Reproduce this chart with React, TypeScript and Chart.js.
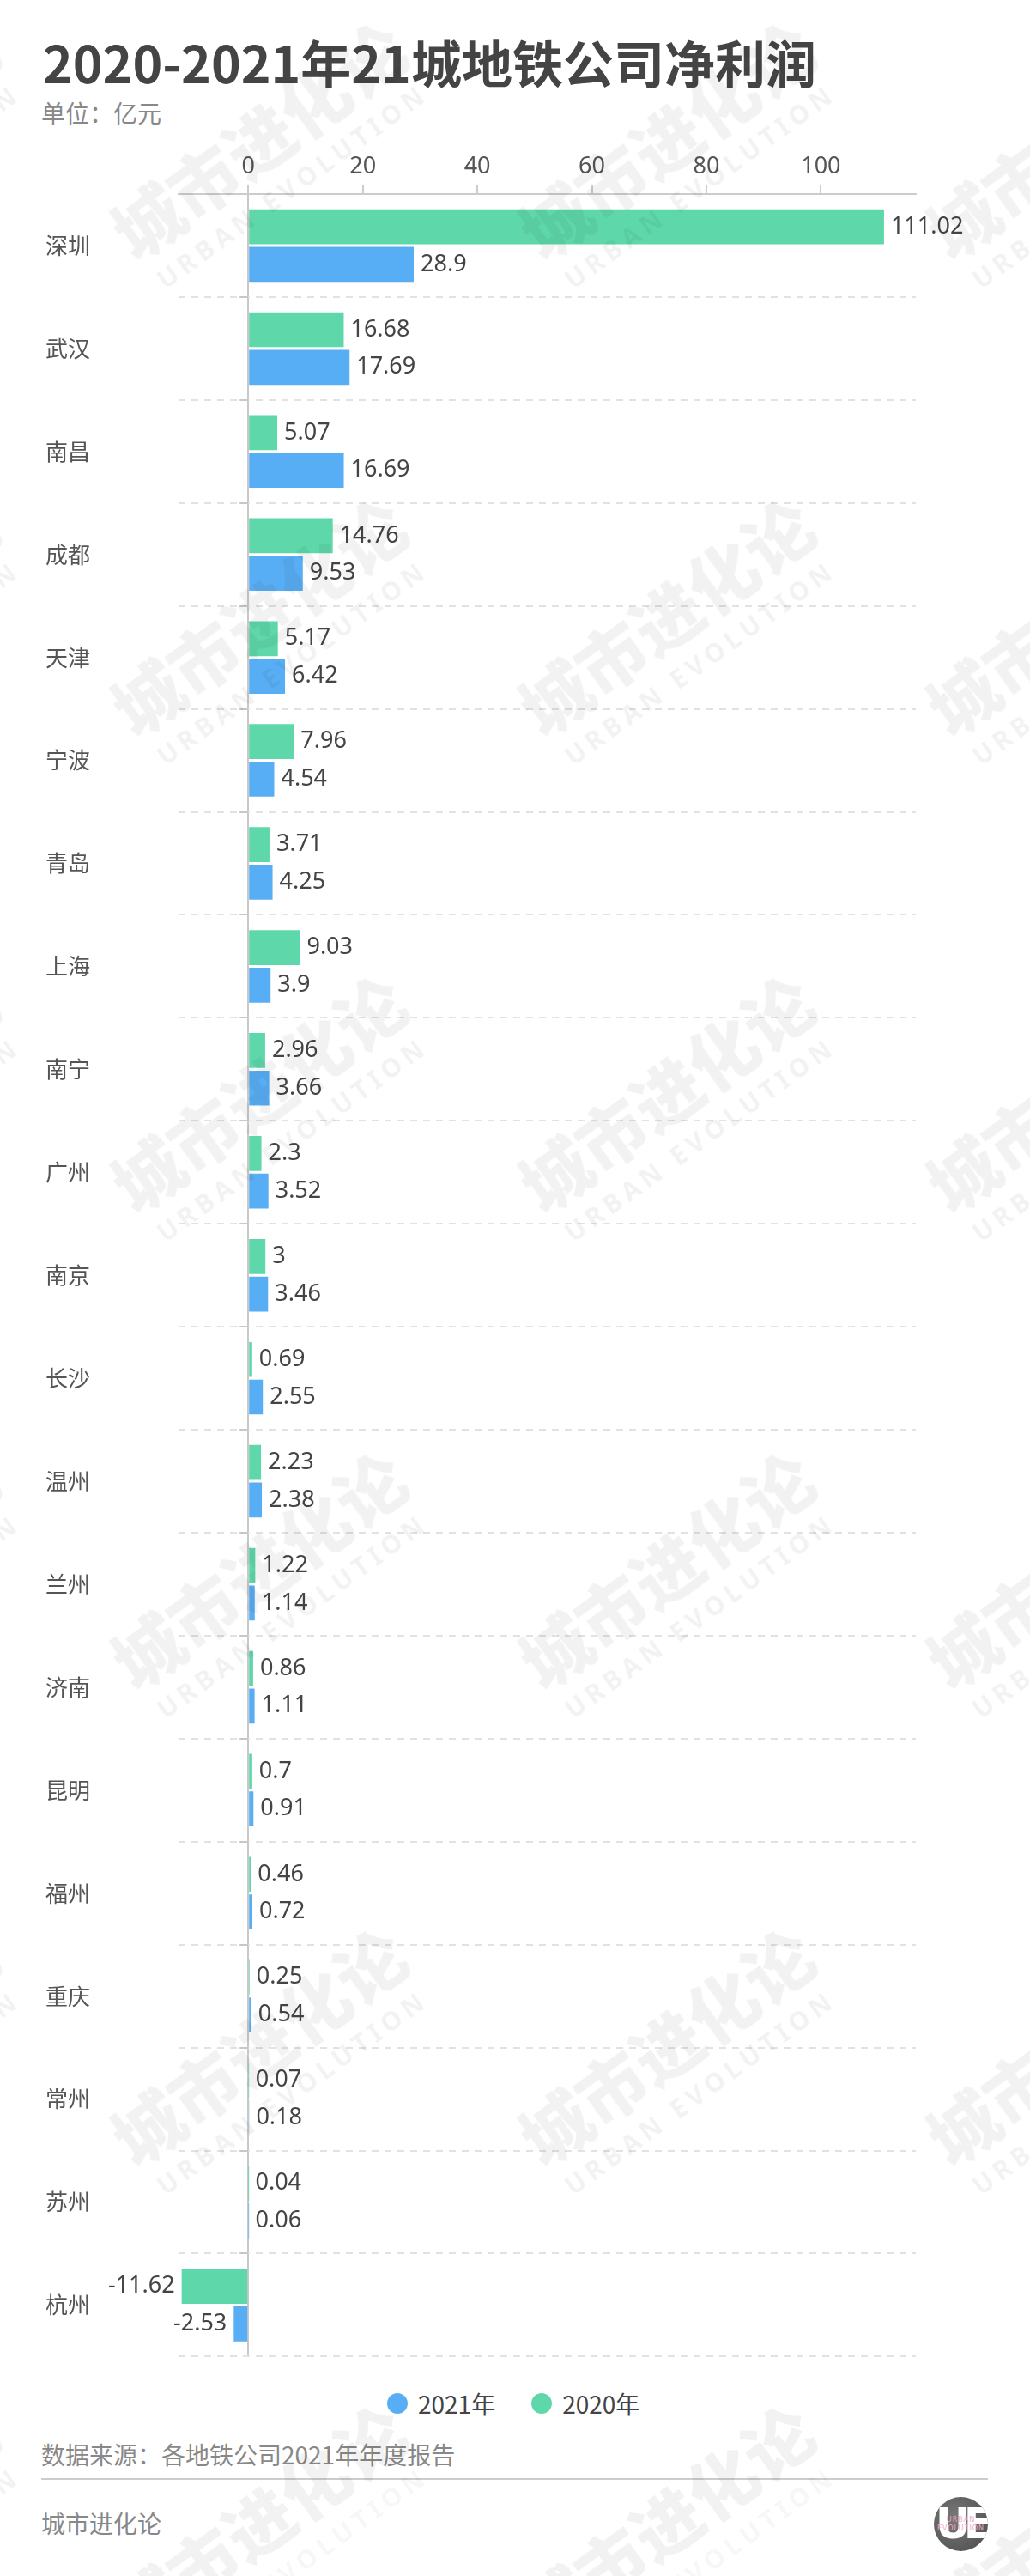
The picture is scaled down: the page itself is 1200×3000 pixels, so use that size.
import React, { useEffect, useRef } from "react";
import { Chart, registerables } from "chart.js";

Chart.register(...registerables);

const cities = ["深圳", "武汉", "南昌", "成都", "天津", "宁波", "青岛", "上海", "南宁", "广州", "南京", "长沙", "温州", "兰州", "济南", "昆明", "福州", "重庆", "常州", "苏州", "杭州"];
const profit2020 = [111.02, 16.68, 5.07, 14.76, 5.17, 7.96, 3.71, 9.03, 2.96, 2.3, 3, 0.69, 2.23, 1.22, 0.86, 0.7, 0.46, 0.25, 0.07, 0.04, -11.62];
const profit2021 = [28.9, 17.69, 16.69, 9.53, 6.42, 4.54, 4.25, 3.9, 3.66, 3.52, 3.46, 2.55, 2.38, 1.14, 1.11, 0.91, 0.72, 0.54, 0.18, 0.06, -2.53];
const xTickValues = [0, 20, 40, 60, 80, 100];
const legendNames = ["2021年", "2020年"];

const GREEN = "#5ED8AA";
const BLUE = "#58AEF4";
const FONT = '"Noto Sans CJK SC", "Noto Sans", sans-serif';
const NUM_FONT = '"Noto Sans", "Noto Sans CJK SC", sans-serif';

const wmCols = [-162, 313, 788, 1263];
const wmRows = [143, 698, 1253, 1808, 2363, 2918];

const valueLabelPlugin = {
  id: "valueLabels",
  afterDatasetsDraw(chart: any) {
    const { ctx } = chart;
    ctx.save();
    ctx.font = `27px ${NUM_FONT}`;
    ctx.fillStyle = "#444";
    ctx.textBaseline = "middle";
    chart.data.datasets.forEach((ds: any, i: number) => {
      const meta = chart.getDatasetMeta(i);
      meta.data.forEach((bar: any, j: number) => {
        const v = ds.data[j] as number;
        const txt = String(v);
        if (v >= 0) {
          ctx.textAlign = "left";
          ctx.fillText(txt, bar.x + 8, bar.y);
        } else {
          ctx.textAlign = "right";
          ctx.fillText(txt, bar.x - 8, bar.y);
        }
      });
    });
    ctx.restore();
  },
};

const zeroTicksPlugin = {
  id: "zeroTicks",
  afterDraw(chart: any) {
    const { ctx } = chart;
    const xs = chart.scales.x;
    const ys = chart.scales.y;
    const x0 = xs.getPixelForValue(0);
    ctx.save();
    ctx.strokeStyle = "#c8c8c8";
    ctx.lineWidth = 2;
    for (let i = 1; i < cities.length; i++) {
      const y = Math.round((ys.getPixelForValue(i - 1) + ys.getPixelForValue(i)) / 2);
      ctx.beginPath();
      ctx.moveTo(x0 - 10, y);
      ctx.lineTo(x0, y);
      ctx.stroke();
    }
    ctx.restore();
  },
};

export default function App() {
  const ref = useRef<HTMLCanvasElement>(null);
  useEffect(() => {
    document.body.style.margin = "0";
    const chart = new Chart(ref.current as HTMLCanvasElement, {
      type: "bar",
      data: {
        labels: cities,
        datasets: [
          { label: "2020年", data: profit2020, backgroundColor: GREEN },
          { label: "2021年", data: profit2021, backgroundColor: BLUE },
        ],
      },
      options: {
        indexAxis: "y",
        animation: false,
        responsive: true,
        maintainAspectRatio: false,
        layout: { padding: { left: 53, right: 133, top: 0, bottom: 7 } },
        datasets: { bar: { categoryPercentage: 0.73, barPercentage: 0.93 } },
        plugins: { legend: { display: false }, tooltip: { enabled: false } },
        scales: {
          x: {
            type: "linear",
            position: "top",
            min: -12.17,
            max: 116.58,
            afterBuildTicks: (s: any) => {
              s.ticks = xTickValues.map((v) => ({ value: v }));
            },
            afterFit: (s: any) => {
              s.height = 76;
            },
            ticks: { font: { family: NUM_FONT, size: 27 }, color: "#555", padding: 4 },
            grid: {
              color: (c: any) => (c.tick && c.tick.value === 0 ? "#c8c8c8" : "rgba(0,0,0,0)"),
              lineWidth: 2,
              drawTicks: true,
              tickLength: 11,
              tickColor: "#cccccc",
              tickWidth: 2,
            },
            border: { display: true, color: "#cccccc", width: 2 },
          },
          y: {
            type: "category",
            afterFit: (s: any) => {
              s.width = 155;
            },
            ticks: { font: { family: FONT, size: 26 }, color: "#555", crossAlign: "far", padding: 0 },
            grid: {
              color: (c: any) => (c.index === 0 || c.index >= cities.length ? "rgba(0,0,0,0)" : "#e2e2e2"),
              lineWidth: 2,
              drawTicks: false,
              offset: true,
            },
            border: { display: false, dash: [8, 7] },
          },
        },
      } as any,
      plugins: [valueLabelPlugin, zeroTicksPlugin],
    });
    return () => chart.destroy();
  }, []);

  const textBase: React.CSSProperties = { position: "absolute", whiteSpace: "nowrap", fontFamily: FONT };

  return (
    <div style={{ position: "relative", width: 1200, height: 3000, background: "#fff", overflow: "hidden", fontFamily: FONT }}>
      <div style={{ ...textBase, left: 50, top: 42, fontSize: 59, lineHeight: "60px", fontWeight: 700, color: "#444" }}>
        2020-2021年21城地铁公司净利润
      </div>
      <div style={{ ...textBase, left: 48, top: 117, fontSize: 28, lineHeight: "28px", color: "#888" }}>单位：亿元</div>

      <div style={{ position: "absolute", left: 0, top: 150, width: 1200, height: 2610 }}>
        <canvas ref={ref} />
      </div>

      <div style={{ ...textBase, left: 451, top: 2785, height: 28, display: "flex", alignItems: "center", fontSize: 28, color: "#444" }}>
        <span style={{ width: 24, height: 24, borderRadius: "50%", background: BLUE, display: "inline-block" }} />
        <span style={{ marginLeft: 12, lineHeight: "28px" }}>{legendNames[0]}</span>
        <span style={{ width: 24, height: 24, borderRadius: "50%", background: GREEN, display: "inline-block", marginLeft: 42 }} />
        <span style={{ marginLeft: 12, lineHeight: "28px" }}>{legendNames[1]}</span>
      </div>

      <div style={{ ...textBase, left: 48, top: 2844, fontSize: 28, lineHeight: "28px", color: "#888" }}>数据来源：各地铁公司2021年年度报告</div>
      <div style={{ position: "absolute", left: 48, top: 2886, width: 1103, height: 2, background: "#cccccc" }} />
      <div style={{ ...textBase, left: 48, top: 2924, fontSize: 28, lineHeight: "28px", color: "#888" }}>城市进化论</div>

      <div style={{ position: "absolute", left: 1088, top: 2908, width: 63, height: 63, borderRadius: "50%", overflow: "hidden", background: "radial-gradient(circle at 40% 40%, #7a7a7a, #4a4a4a)" }}>
        <div style={{ position: "absolute", left: 0, right: 0, top: 4, textAlign: "center", color: "#fff", fontWeight: 700, fontSize: 50, lineHeight: "54px", letterSpacing: -8, fontFamily: '"DejaVu Sans"' }}>UE</div>
        <div style={{ position: "absolute", left: 0, right: 0, top: 22, textAlign: "center", color: "#f2a7c9", fontSize: 8, lineHeight: "10px", letterSpacing: 1, fontFamily: '"DejaVu Sans"' }}>
          URBAN
          <br />
          EVOLUTION
        </div>
      </div>

      {wmRows.map((cy) =>
        wmCols.map((cx) => (
          <div
            key={`${cx}-${cy}`}
            style={{
              position: "absolute",
              left: cx,
              top: cy + 36,
              transform: "translate(-50%, -50%) rotate(-36deg)",
              textAlign: "center",
              color: "rgba(0,0,0,0.05)",
              pointerEvents: "none",
              whiteSpace: "nowrap",
            }}
          >
            <div style={{ fontSize: 80, lineHeight: "80px", fontWeight: 900, fontFamily: FONT }}>城市进化论</div>
            <div style={{ fontSize: 30, lineHeight: "32px", fontWeight: 700, letterSpacing: 6, marginTop: 14, fontFamily: '"Noto Sans", sans-serif' }}>URBAN EVOLUTION</div>
          </div>
        ))
      )}
    </div>
  );
}
